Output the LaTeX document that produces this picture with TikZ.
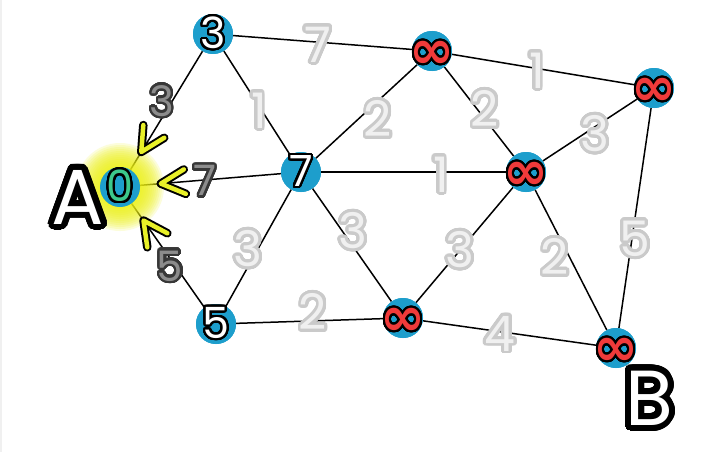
\documentclass[tikz,border=0pt]{standalone}
\usepackage{fontspec}
\setmainfont{Poppins}
\newfontfamily\symfont{DejaVu Sans}
\usepackage{contour}
\contournumber{40}
\usetikzlibrary{calc}
\definecolor{nodeblue}{RGB}{29,158,204}
\definecolor{infred}{RGB}{240,58,58}
\definecolor{zerogreen}{RGB}{60,200,140}
\definecolor{glowy}{RGB}{238,242,20}
\definecolor{chevy}{RGB}{232,240,40}
\definecolor{lblfill}{RGB}{240,240,240}
\definecolor{lbledge}{RGB}{202,202,202}
\definecolor{nearfill}{RGB}{140,140,140}
\definecolor{nearedge}{RGB}{55,55,55}
\newcommand\edgetxt[1]{{\color{lblfill}\contourlength{2.8pt}\contour{lbledge}{#1}}}
\newcommand\neartxt[1]{{\color{nearfill}\contourlength{2.3pt}\contour{nearedge}{#1}}}
\newcommand\vtxt[1]{{\color{white}\contourlength{2.2pt}\contour{black}{#1}}}
\newcommand\inftxt{{\symfont\bfseries\color{infred}\contourlength{2pt}\contour{black}{∞}}}
\newcommand\zerotxt{{\color{zerogreen}\contourlength{2.2pt}\contour{black}{0}}}
\newcommand\bigtxt[1]{{\color{white}\contourlength{6pt}\contour{black}{#1}}}
\tikzset{
  vertex/.style={circle, fill=nodeblue, minimum size=40pt, inner sep=0pt},
  vlabel/.style={inner sep=0pt, font=\fontsize{43}{43}\selectfont},
  inflabel/.style={inner sep=0pt, yshift=-5pt, font=\fontsize{54}{54}\selectfont},
  elabel/.style={inner sep=0pt, font=\fontsize{49}{49}\selectfont},
  nlabel/.style={inner sep=0pt, font=\fontsize{42}{42}\selectfont},
  biglabel/.style={inner sep=0pt, font=\fontsize{78}{78}\selectfont},
  edge/.style={line width=1.5pt, black},
  chevout/.style={line width=8.5pt, black, line cap=round, line join=round},
  chevin/.style={line width=4.5pt, chevy, line cap=round, line join=round},
}
\begin{document}
\begin{tikzpicture}[x=1pt, y=-1pt]
\useasboundingbox (0,0) rectangle (711,452);
\fill[white] (0,0) rectangle (711,452);
\draw[gray!12, line width=2pt] (1,0) -- (1,452);
% vertices
\node[vertex] (A0) at (120,187) {};
\node[vertex] (n3) at (213,34) {};
\node[vertex] (n7) at (301,172) {};
\node[vertex] (n5) at (216,324) {};
\node[vertex] (t) at (432,51) {};
\node[vertex] (m) at (526,172) {};
\node[vertex] (r) at (654,88) {};
\node[vertex] (b) at (403,318) {};
\node[vertex] (B) at (616,348) {};
% edges
\foreach \u/\v in {n3/A0, n7/A0, n5/A0, n3/t, n3/n7, n7/t, n7/m, n7/n5, n7/b, n5/b, t/m, t/r, m/r, m/b, m/B, r/B, b/B}
  \draw[edge] (\u) -- (\v);
% glow around A
\foreach \rr in {44,42,...,20}
  \fill[glowy, opacity=0.15] (A0) circle (\rr);
% vertex discs on top of edges and glow
\foreach \n in {A0,n3,n7,n5,t,m,r,b,B}
  \fill[nodeblue] (\n) circle (20);
% vertex labels
\node[vlabel] (A0l) at (A0) {\zerotxt};
\node[vlabel] (n3l) at (n3) {\vtxt{3}};
\node[vlabel] (n7l) at (n7) {\vtxt{7}};
\node[vlabel] (n5l) at (n5) {\vtxt{5}};
\node[inflabel] (tl) at (t) {\inftxt};
\node[inflabel] (ml) at (m) {\inftxt};
\node[inflabel] (rl) at (r) {\inftxt};
\node[inflabel] (bl) at (b) {\inftxt};
\node[inflabel] (Bl) at (B) {\inftxt};
% chevrons
\foreach \n in {n3,n7,n5}{
  \coordinate (tip-\n) at ($(A0)!41pt!(\n)$);
  \coordinate (armA-\n) at ($(tip-\n)!27pt!27:(\n)$);
  \coordinate (armB-\n) at ($(tip-\n)!27pt!-27:(\n)$);
  \draw[chevout] (armA-\n) -- (tip-\n) -- (armB-\n);
  \draw[chevin] (armA-\n) -- (tip-\n) -- (armB-\n);
}
% near-A weights
\node[nlabel] (w3) at (162,102) {\neartxt{3}};
\node[nlabel] (w7) at (205,182) {\neartxt{7}};
\node[nlabel] (w5) at (170,267) {\neartxt{5}};
% edge weights
\node[elabel] (e1) at (318,46) {\edgetxt{7}};
\node[elabel] (e2) at (259,112) {\edgetxt{1}};
\node[elabel] (e3) at (378,120) {\edgetxt{2}};
\node[elabel] (e4) at (485,110) {\edgetxt{2}};
\node[elabel] (e5) at (537,72) {\edgetxt{1}};
\node[elabel] (e6) at (595,135) {\edgetxt{3}};
\node[elabel] (e7) at (441,176) {\edgetxt{1}};
\node[elabel] (e8) at (248,250) {\edgetxt{3}};
\node[elabel] (e9) at (353,232) {\edgetxt{3}};
\node[elabel] (e10) at (460,251) {\edgetxt{3}};
\node[elabel] (e11) at (555,258) {\edgetxt{2}};
\node[elabel] (e12) at (635,240) {\edgetxt{5}};
\node[elabel] (e13) at (313,313) {\edgetxt{2}};
\node[elabel] (e14) at (500,335) {\edgetxt{4}};
% A and B
\node[biglabel] (Alab) at (78,200) {\bigtxt{A}};
\node[biglabel] (Blab) at (649,401) {\bigtxt{B}};
\end{tikzpicture}
\end{document}
